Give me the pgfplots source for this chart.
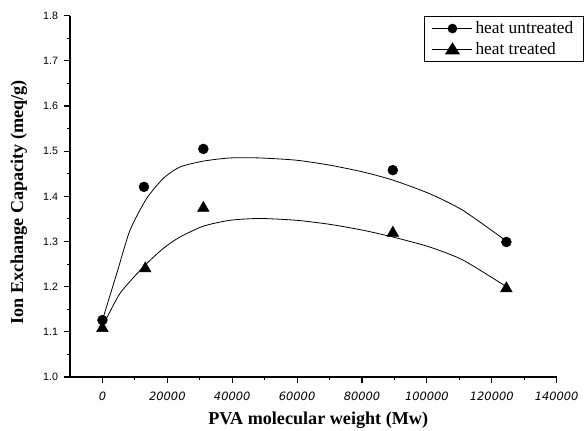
\documentclass[border=0pt]{standalone}
\usepackage{fontspec}
\setmainfont{Liberation Serif}
\setsansfont{Liberation Sans}
\newfontfamily\xtickfont{DejaVu Sans}
\usepackage{pgfplots}
\pgfplotsset{compat=1.18}
\usetikzlibrary{calc}

% measured points
\pgfplotstableread{
x      y
0      1.126
12800  1.421
31100  1.505
89500  1.458
124500 1.299
}\untreated
\pgfplotstableread{
x      y
0      1.108
13200  1.240
31100  1.374
89500  1.319
124500 1.196
}\treated
% fitted curves
\pgfplotstableread{
x      y
0      1.126
4400   1.229
8500   1.325
13600  1.395
18800  1.440
23900  1.465
31100  1.478
39300  1.485
48500  1.485
59800  1.480
70100  1.469
80300  1.454
89500  1.436
100800 1.406
111100 1.369
124500 1.301
}\fitA
\pgfplotstableread{
x      y
0      1.111
5400   1.185
13200  1.248
18800  1.285
23900  1.310
31100  1.334
39300  1.347
48500  1.351
59800  1.347
70100  1.338
80300  1.325
89500  1.310
100800 1.288
111100 1.259
124500 1.200
}\fitB

\begin{document}
\begin{tikzpicture}
\begin{axis}[
    scale only axis,
    width=365pt, height=271pt,
    xmin=-10000, xmax=140000,
    ymin=1.0, ymax=1.8,
    axis lines*=left,
    axis line style={black, line width=1pt},
    xtick={0,20000,...,140000},
    minor x tick num=1,
    scaled x ticks=false,
    ytick={1.0,1.1,...,1.8},
    minor y tick num=1,
    yticklabel style={font=\fontsize{8}{10}\sffamily, xshift=-1pt,
        /pgf/number format/fixed, /pgf/number format/fixed zerofill,
        /pgf/number format/precision=1},
    xticklabel style={font=\fontsize{8.6}{10}\xtickfont\itshape, yshift=-3pt,
        /pgf/number format/1000 sep={}, /pgf/number format/fixed},
    tick align=outside,
    major tick length=4.5pt, minor tick length=2.5pt,
    tick style={black, line width=0.8pt},
    /pgf/number format/assume math mode=true,
    xlabel={PVA molecular weight (Mw)},
    ylabel={Ion Exchange Capacity (meq/g)},
    label style={font=\fontsize{13.6}{15}\selectfont\bfseries, inner sep=0pt},
    ylabel style={at={(axis description cs:0,0.483)}, anchor=south, yshift=32pt},
    xlabel style={at={(axis description cs:0.51,0)}, anchor=north, yshift=-26pt},
    legend style={at={(rel axis cs:1.057,1.0)}, anchor=north east,
        draw=black, line width=0.8pt, font=\fontsize{13}{15}\selectfont,
        row sep=1pt, inner xsep=6pt, inner ysep=2pt},
    legend cell align=left,
    clip=false,
]
\addplot[black, line width=0.6pt, smooth, tension=0.4, forget plot] table {\fitA};
\addplot[black, line width=0.6pt, smooth, tension=0.4, forget plot] table {\fitB};
\addplot[only marks, mark=*, mark size=3.7pt, black,
    legend image code/.code={
        \draw[black, line width=0.6pt] (0pt,0pt) -- (30pt,0pt);
        \draw[black, fill=black] (15pt,0pt) circle (3.2pt);}]
    table {\untreated};
\addlegendentry{heat untreated}
\addplot[only marks, mark=triangle*, mark size=5pt, black,
    legend image code/.code={
        \draw[black, line width=0.6pt] (0pt,0pt) -- (30pt,0pt);
        \fill[black] (15pt,4.5pt) -- (10pt,-3.5pt) -- (20pt,-3.5pt) -- cycle;}]
    table {\treated};
\addlegendentry{heat treated}
\end{axis}
\pgfresetboundingbox
\path[use as bounding box] ($(current axis.south west)+(-52.5pt,-39.75pt)$)
    rectangle ($(current axis.south west)+(387pt,282.75pt)$);
\end{tikzpicture}
\end{document}
